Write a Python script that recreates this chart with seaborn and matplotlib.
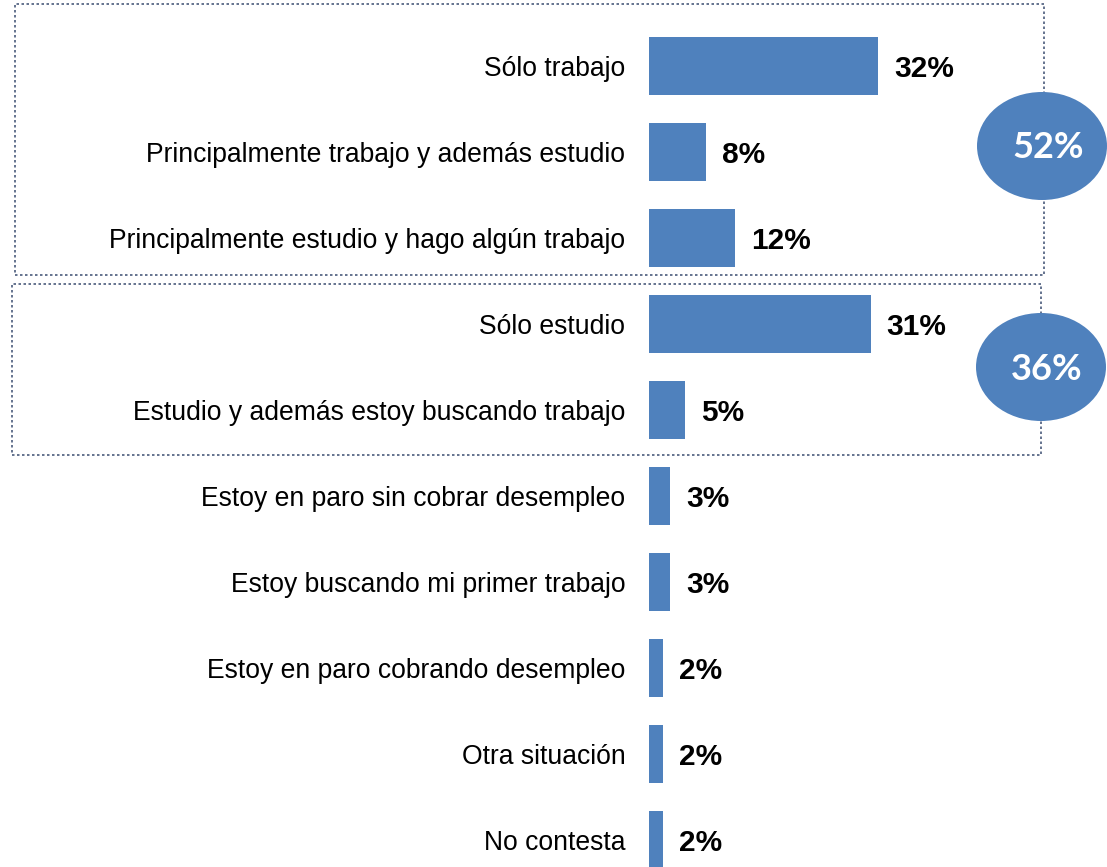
import matplotlib
matplotlib.use("Agg")
import matplotlib.pyplot as plt
import seaborn as sns
import pandas as pd
from matplotlib.patches import Rectangle, Ellipse

# Datos
categorias = [
    "Sólo trabajo",
    "Principalmente trabajo y además estudio",
    "Principalmente estudio y hago algún trabajo",
    "Sólo estudio",
    "Estudio y además estoy buscando trabajo",
    "Estoy en paro sin cobrar desempleo",
    "Estoy buscando mi primer trabajo",
    "Estoy en paro cobrando desempleo",
    "Otra situación",
    "No contesta",
]
porcentajes = [32, 8, 12, 31, 5, 3, 3, 2, 2, 2]
grupo_trabajo = [0, 1, 2]
grupo_estudio = [3, 4]

AZUL = "#4F81BD"
W, H = 1107, 867

sns.set_theme(style="white")
plt.rcParams["font.family"] = ["Liberation Sans", "DejaVu Sans"]

df = pd.DataFrame({"categoria": categorias, "pct": porcentajes})

fig = plt.figure(figsize=(W / 100, H / 100), dpi=100)
ax = fig.add_axes([649 / W, 0, (W - 649) / W, 1])

sns.barplot(data=df, x="pct", y="categoria", color=AZUL, saturation=1,
            width=0.67, linewidth=0, ax=ax)

# 86 px por categoría, primera categoría centrada en y=66 px
ax.set_ylim((H - 66) / 86, -66 / 86)
ax.set_xlim(0, (W - 649) / 7.15)

for i, v in enumerate(porcentajes):
    ax.annotate(f"{v}%", xy=(v, i), xytext=(16, -3), textcoords="offset pixels",
                ha="left", va="center", fontsize=21.5, fontweight="bold", color="black")

for s in ax.spines.values():
    s.set_visible(False)
ax.set_xticks([])
ax.set_xlabel("")
ax.set_ylabel("")
ax.tick_params(axis="y", length=0, pad=17, labelsize=19.1, colors="black")


def fx(x):
    return x / W


def fy(y):
    return 1 - y / H


# Recuadros punteados
borde = "#4A5B7C"
for (x0, y0, x1, y1) in [(15, 4, 1044, 275), (12, 284, 1041, 455)]:
    fig.add_artist(Rectangle((fx(x0), fy(y1)), fx(x1 - x0), (y1 - y0) / H,
                             transform=fig.transFigure, fill=False,
                             edgecolor=borde, linewidth=1.2, linestyle=(0, (1.5, 1.5))))

# Elipses con totales
totales = [sum(porcentajes[i] for i in grupo_trabajo),
           sum(porcentajes[i] for i in grupo_estudio)]
for total, (cx, cy) in zip(totales, [(1042, 146), (1041, 367)]):
    fig.add_artist(Ellipse((fx(cx), fy(cy)), 130 / W, 108 / H,
                           transform=fig.transFigure, facecolor=AZUL, edgecolor="none"))
    fig.text(fx(cx + 6), fy(cy + 2), f"{total}%", ha="center", va="center",
             fontsize=26, fontweight="bold", color="white", family=["Lato", "DejaVu Sans"])

fig.savefig("out.png", dpi=100)
